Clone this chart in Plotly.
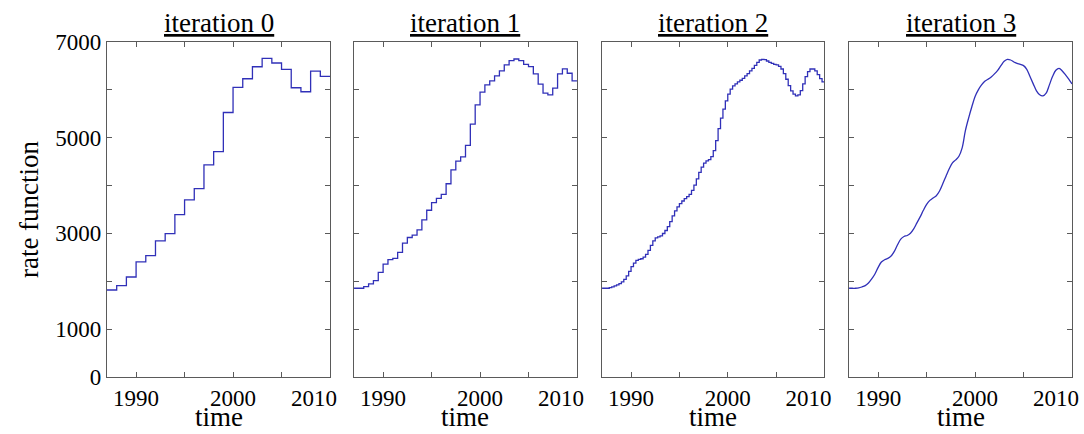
import plotly.graph_objects as go

# ---------------- data ----------------
start_year = 1987.0
end_year = 2010.0

# iteration 0: yearly levels 1987..2009
iter0 = [1818, 1908, 2090, 2404, 2536, 2843, 2996, 3393, 3701, 3937, 4433, 4711,
         5527, 6050, 6232, 6483, 6657, 6561, 6427, 6044, 5960, 6393, 6280]

# iteration 1: half-year levels
iter1 = [1854, 1854, 1889, 1945, 2014, 2187, 2360, 2451, 2478, 2603, 2797, 2915,
         2964, 3075, 3283, 3484, 3643, 3733, 3816, 4038, 4329, 4510, 4600, 4842,
         5286, 5688, 5951, 6104, 6187, 6291, 6395, 6520, 6610, 6645, 6610, 6534,
         6485, 6333, 6118, 5931, 5896, 6035, 6333, 6437, 6347, 6187]

# iteration 2: quarter-year levels
iter2 = [1854, 1854, 1854, 1868, 1882, 1903, 1924, 1951, 1986, 2042, 2111, 2208,
         2305, 2381, 2437, 2458, 2471, 2506, 2561, 2645, 2749, 2846, 2908, 2929,
         2950, 2998, 3061, 3144, 3248, 3366, 3470, 3553, 3622, 3678, 3726, 3768,
         3816, 3899, 4010, 4142, 4274, 4385, 4468, 4516, 4544, 4606, 4731, 4939,
         5189, 5411, 5598, 5771, 5910, 6014, 6083, 6125, 6166, 6201, 6242, 6291,
         6339, 6395, 6450, 6513, 6575, 6624, 6638, 6631, 6603, 6575, 6554, 6534,
         6520, 6492, 6436, 6339, 6222, 6090, 5979, 5910, 5875, 5896, 5986, 6125,
         6277, 6381, 6436, 6436, 6395, 6319, 6235, 6166]

# iteration 3: fine (nearly smooth) curve, values every 1/3 year from 1987 to 2010
iter3 = [1854, 1854, 1854, 1861, 1882, 1910, 1965, 2049, 2153, 2291, 2402, 2451,
         2478, 2527, 2624, 2763, 2880, 2936, 2957, 3005, 3095, 3220, 3345, 3483,
         3608, 3691, 3740, 3788, 3886, 4038, 4197, 4350, 4475, 4537, 4613, 4787,
         5147, 5411, 5646, 5861, 6000, 6104, 6180, 6222, 6270, 6333, 6409, 6506,
         6596, 6638, 6624, 6582, 6554, 6534, 6506, 6430, 6277, 6125, 5979, 5896,
         5875, 5931, 6104, 6284, 6409, 6450, 6395, 6312, 6222, 6125]

titles = ["iteration 0", "iteration 1", "iteration 2", "iteration 3"]
x_label = "time"
y_label = "rate function"
x_tickvals = [1990, 1995, 2000, 2005, 2010]
x_ticktext = ["1990", "", "2000", "", ""]
x_end_tick = [2010]
x_end_text = ["2010"]
y_tickvals = [0, 1000, 2000, 3000, 4000, 5000, 6000, 7000]
y_ticktext = ["0", "1000", "", "3000", "", "5000", "", "7000"]

# ---------------- helpers ----------------
def step_xy(levels):
    n = len(levels)
    dt = (end_year - start_year) / n
    xs = [start_year + i * dt for i in range(n)] + [end_year]
    ys = list(levels) + [levels[-1]]
    return xs, ys

LINE_COLOR = "#3030b8"
FRAME = "#5a5a5a"
FONT = "Liberation Serif"
TICKFONT = dict(family=FONT, size=23, color="black")
LABELFONT = dict(family=FONT, size=27, color="black")

fig = go.Figure()

domains = [[0.0, 0.2311], [0.256, 0.487], [0.513, 0.7435], [0.769, 1.0]]

series = []
for lv in (iter0, iter1, iter2):
    series.append(step_xy(lv))
n3 = len(iter3)
x3 = [start_year + i * (end_year - start_year) / (n3 - 1) for i in range(n3)]
series.append((x3, iter3))

for i, (xs, ys) in enumerate(series):
    sfx = "" if i == 0 else str(i + 1)
    fig.add_trace(go.Scatter(
        x=xs, y=ys, mode="lines",
        line=dict(color=LINE_COLOR, width=1.3,
                  shape=("spline" if i == 3 else "hv")),
        xaxis="x" + sfx, yaxis="y" + sfx, showlegend=False, hoverinfo="skip"))

    xa = dict(domain=domains[i], range=[start_year, end_year], anchor="y" + sfx,
              tickvals=x_tickvals, ticktext=x_ticktext, ticks="inside", ticklen=5,
              tickcolor=FRAME, showline=True, linecolor=FRAME, linewidth=1.2,
              mirror="ticks", showgrid=False, zeroline=False, automargin=False,
              tickfont=TICKFONT)
    ya = dict(range=[0, 7000], anchor="x" + sfx, domain=[0, 1], automargin=False,
              tickvals=y_tickvals, ticktext=(y_ticktext if i == 0 else [""] * 8),
              ticks="inside", ticklen=5, tickcolor=FRAME, showline=True,
              linecolor=FRAME, linewidth=1.2, mirror="ticks", showgrid=False,
              zeroline=False, tickfont=TICKFONT)
    if i == 0:
        ya["title"] = dict(text=y_label, font=LABELFONT, standoff=8)
    fig.layout["xaxis" + sfx] = xa
    fig.layout["yaxis" + sfx] = ya

    # overlay axis carrying only the right-end "2010" label, nudged inward
    ov = str(i + 5)
    fig.layout["xaxis" + ov] = dict(
        domain=domains[i], range=[start_year, end_year], anchor="y" + sfx,
        overlaying="x" + sfx, side="bottom", tickvals=x_end_tick,
        ticktext=x_end_text, ticks="inside", ticklen=5,
        tickcolor="rgba(0,0,0,0)", showline=True, linecolor="rgba(0,0,0,0)",
        linewidth=1.2, showgrid=False, zeroline=False, automargin=False,
        tickfont=TICKFONT, ticklabelshift=-16)
    fig.add_trace(go.Scatter(x=[None], y=[None], mode="lines", xaxis="x" + ov,
                             yaxis="y" + sfx, showlegend=False, hoverinfo="skip"))

    cx = (domains[i][0] + domains[i][1]) / 2
    fig.add_annotation(text="<u>" + titles[i] + "</u>", xref="paper", yref="paper",
                       x=cx, y=1.0, xanchor="center", yanchor="bottom", yshift=2,
                       showarrow=False, font=LABELFONT)
    fig.add_annotation(text=x_label, xref="paper", yref="paper",
                       x=cx, y=0.0, xanchor="center", yanchor="middle", yshift=-40,
                       showarrow=False, font=LABELFONT)

fig.update_layout(width=1084, height=434,
                  margin=dict(l=107, r=12, t=42, b=57),
                  paper_bgcolor="white", plot_bgcolor="white")

fig.write_html("out.html")
